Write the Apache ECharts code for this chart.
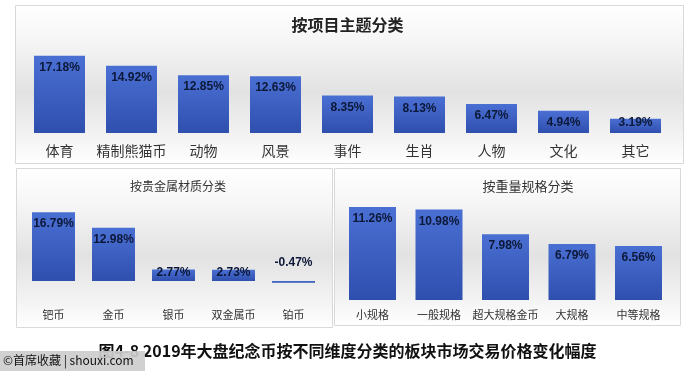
<!DOCTYPE html>
<html>
<head>
<meta charset="utf-8">
<script src="https://cdn.jsdelivr.net/npm/echarts@6/dist/echarts.min.js"></script>
<style>
html,body{margin:0;padding:0;background:#fff;}
#c{width:695px;height:371px;}
</style>
</head>
<body>
<div id="c"></div>
<script>
// ---- data ----
var themeCats = ['体育','精制熊猫币','动物','风景','事件','生肖','人物','文化','其它'];
var themeVals = [17.18, 14.92, 12.85, 12.63, 8.35, 8.13, 6.47, 4.94, 3.19];
var metalCats = ['钯币','金币','银币','双金属币','铂币'];
var metalVals = [16.79, 12.98, 2.77, 2.73, -0.47];
var weightCats = ['小规格','一般规格','超大规格金币','大规格','中等规格'];
var weightVals = [11.26, 10.98, 7.98, 6.79, 6.56];
var panelTitles = ['按项目主题分类','按贵金属材质分类','按重量规格分类'];
var caption = '图4-8 2019年大盘纪念币按不同维度分类的板块市场交易价格变化幅度';
var watermark = '©首席收藏 | shouxi.com';

var CJK = '"Noto Sans CJK SC","Noto Sans",sans-serif';
var NUM = '"Liberation Sans","Noto Sans CJK SC",sans-serif';

var barColor = new echarts.graphic.LinearGradient(0,0,0,1,[
  {offset:0,color:'#4a6fd3'},{offset:1,color:'#2f4fae'}]);
var panelFill = new echarts.graphic.LinearGradient(0,0,0,1,[
  {offset:0,color:'#ffffff'},{offset:0.22,color:'#f6f6f6'},
  {offset:0.55,color:'#e2e2e2'},{offset:0.8,color:'#f1f1f1'},{offset:1,color:'#ffffff'}]);

function items(vals, shortLimit){
  return vals.map(function(v){
    var lbl;
    if (v < 0) lbl = {position:'top', distance:12};
    else if (v < shortLimit) lbl = {position:'inside', offset:[0,-3]};
    else lbl = {position:'insideTop', distance:6};
    return {value:v, label:lbl};
  });
}
function valueLabel(){
  return {show:true, color:'#0c1838', fontFamily:NUM, fontWeight:'bold', fontSize:12,
    formatter:function(p){return p.value.toFixed(2)+'%';}};
}
function catAxis(idx, cats, size, margin){
  return {type:'category', gridIndex:idx, data:cats,
    axisLine:{show:false, onZero:false}, axisTick:{show:false},
    axisLabel:{color:'#333', fontFamily:CJK, fontSize:size, margin:margin, interval:0}};
}
function valAxis(idx, mn, mx){
  return {type:'value', gridIndex:idx, min:mn, max:mx, show:false, splitLine:{show:false}};
}

var chart = echarts.init(document.getElementById('c'), null, {renderer:'canvas'});
chart.setOption({
  animation:false,
  backgroundColor:'#ffffff',
  graphic:[
    {type:'rect', z:-10, shape:{x:15.5,y:5.5,width:668,height:158}, style:{fill:panelFill, stroke:'#d9d9d9', lineWidth:1}},
    {type:'rect', z:-10, shape:{x:16.5,y:168.5,width:316,height:159}, style:{fill:panelFill, stroke:'#d9d9d9', lineWidth:1}},
    {type:'rect', z:-10, shape:{x:334.5,y:168.5,width:346,height:157}, style:{fill:panelFill, stroke:'#d9d9d9', lineWidth:1}},
    {type:'text', z:10, left:'center', top:343, style:{text:caption, fill:'#111', font:'bold 16px '+CJK}},
    {type:'rect', z:20, shape:{x:0,y:351,width:145,height:20}, style:{fill:'rgba(205,205,205,0.92)'}},
    {type:'text', z:21, left:3, top:354, style:{text:watermark, fill:'#111', font:'12px '+CJK}}
  ],
  title:[
    {text:panelTitles[0], left:'center', top:12, textStyle:{fontFamily:CJK, fontSize:16, fontWeight:'bold', color:'#222'}},
    {text:panelTitles[1], left:173, textAlign:'center', top:175, textStyle:{fontFamily:CJK, fontSize:12, fontWeight:'normal', color:'#333'}},
    {text:panelTitles[2], left:523, textAlign:'center', top:175, textStyle:{fontFamily:CJK, fontSize:13, fontWeight:'normal', color:'#333'}}
  ],
  grid:[
    {left:23.5, right:23.5, top:43, bottom:238},
    {left:23.5, right:371.5, top:199, bottom:86},
    {left:339.25, right:23.25, top:201, bottom:71}
  ],
  xAxis:[catAxis(0, themeCats, 14, 11), catAxis(1, metalCats, 11, 24), catAxis(2, weightCats, 11, 9)],
  yAxis:[valAxis(0, 0, 20), valAxis(1, -1, 20), valAxis(2, 0, 12)],
  series:[
    {type:'bar', xAxisIndex:0, yAxisIndex:0, barWidth:51, data:items(themeVals, 4),
      itemStyle:{color:barColor}, label:valueLabel()},
    {type:'bar', xAxisIndex:1, yAxisIndex:1, barWidth:43, data:items(metalVals, 4),
      itemStyle:{color:barColor}, label:valueLabel()},
    {type:'bar', xAxisIndex:2, yAxisIndex:2, barWidth:47, data:items(weightVals, 2),
      itemStyle:{color:barColor}, label:valueLabel()}
  ]
});
</script>
</body>
</html>
